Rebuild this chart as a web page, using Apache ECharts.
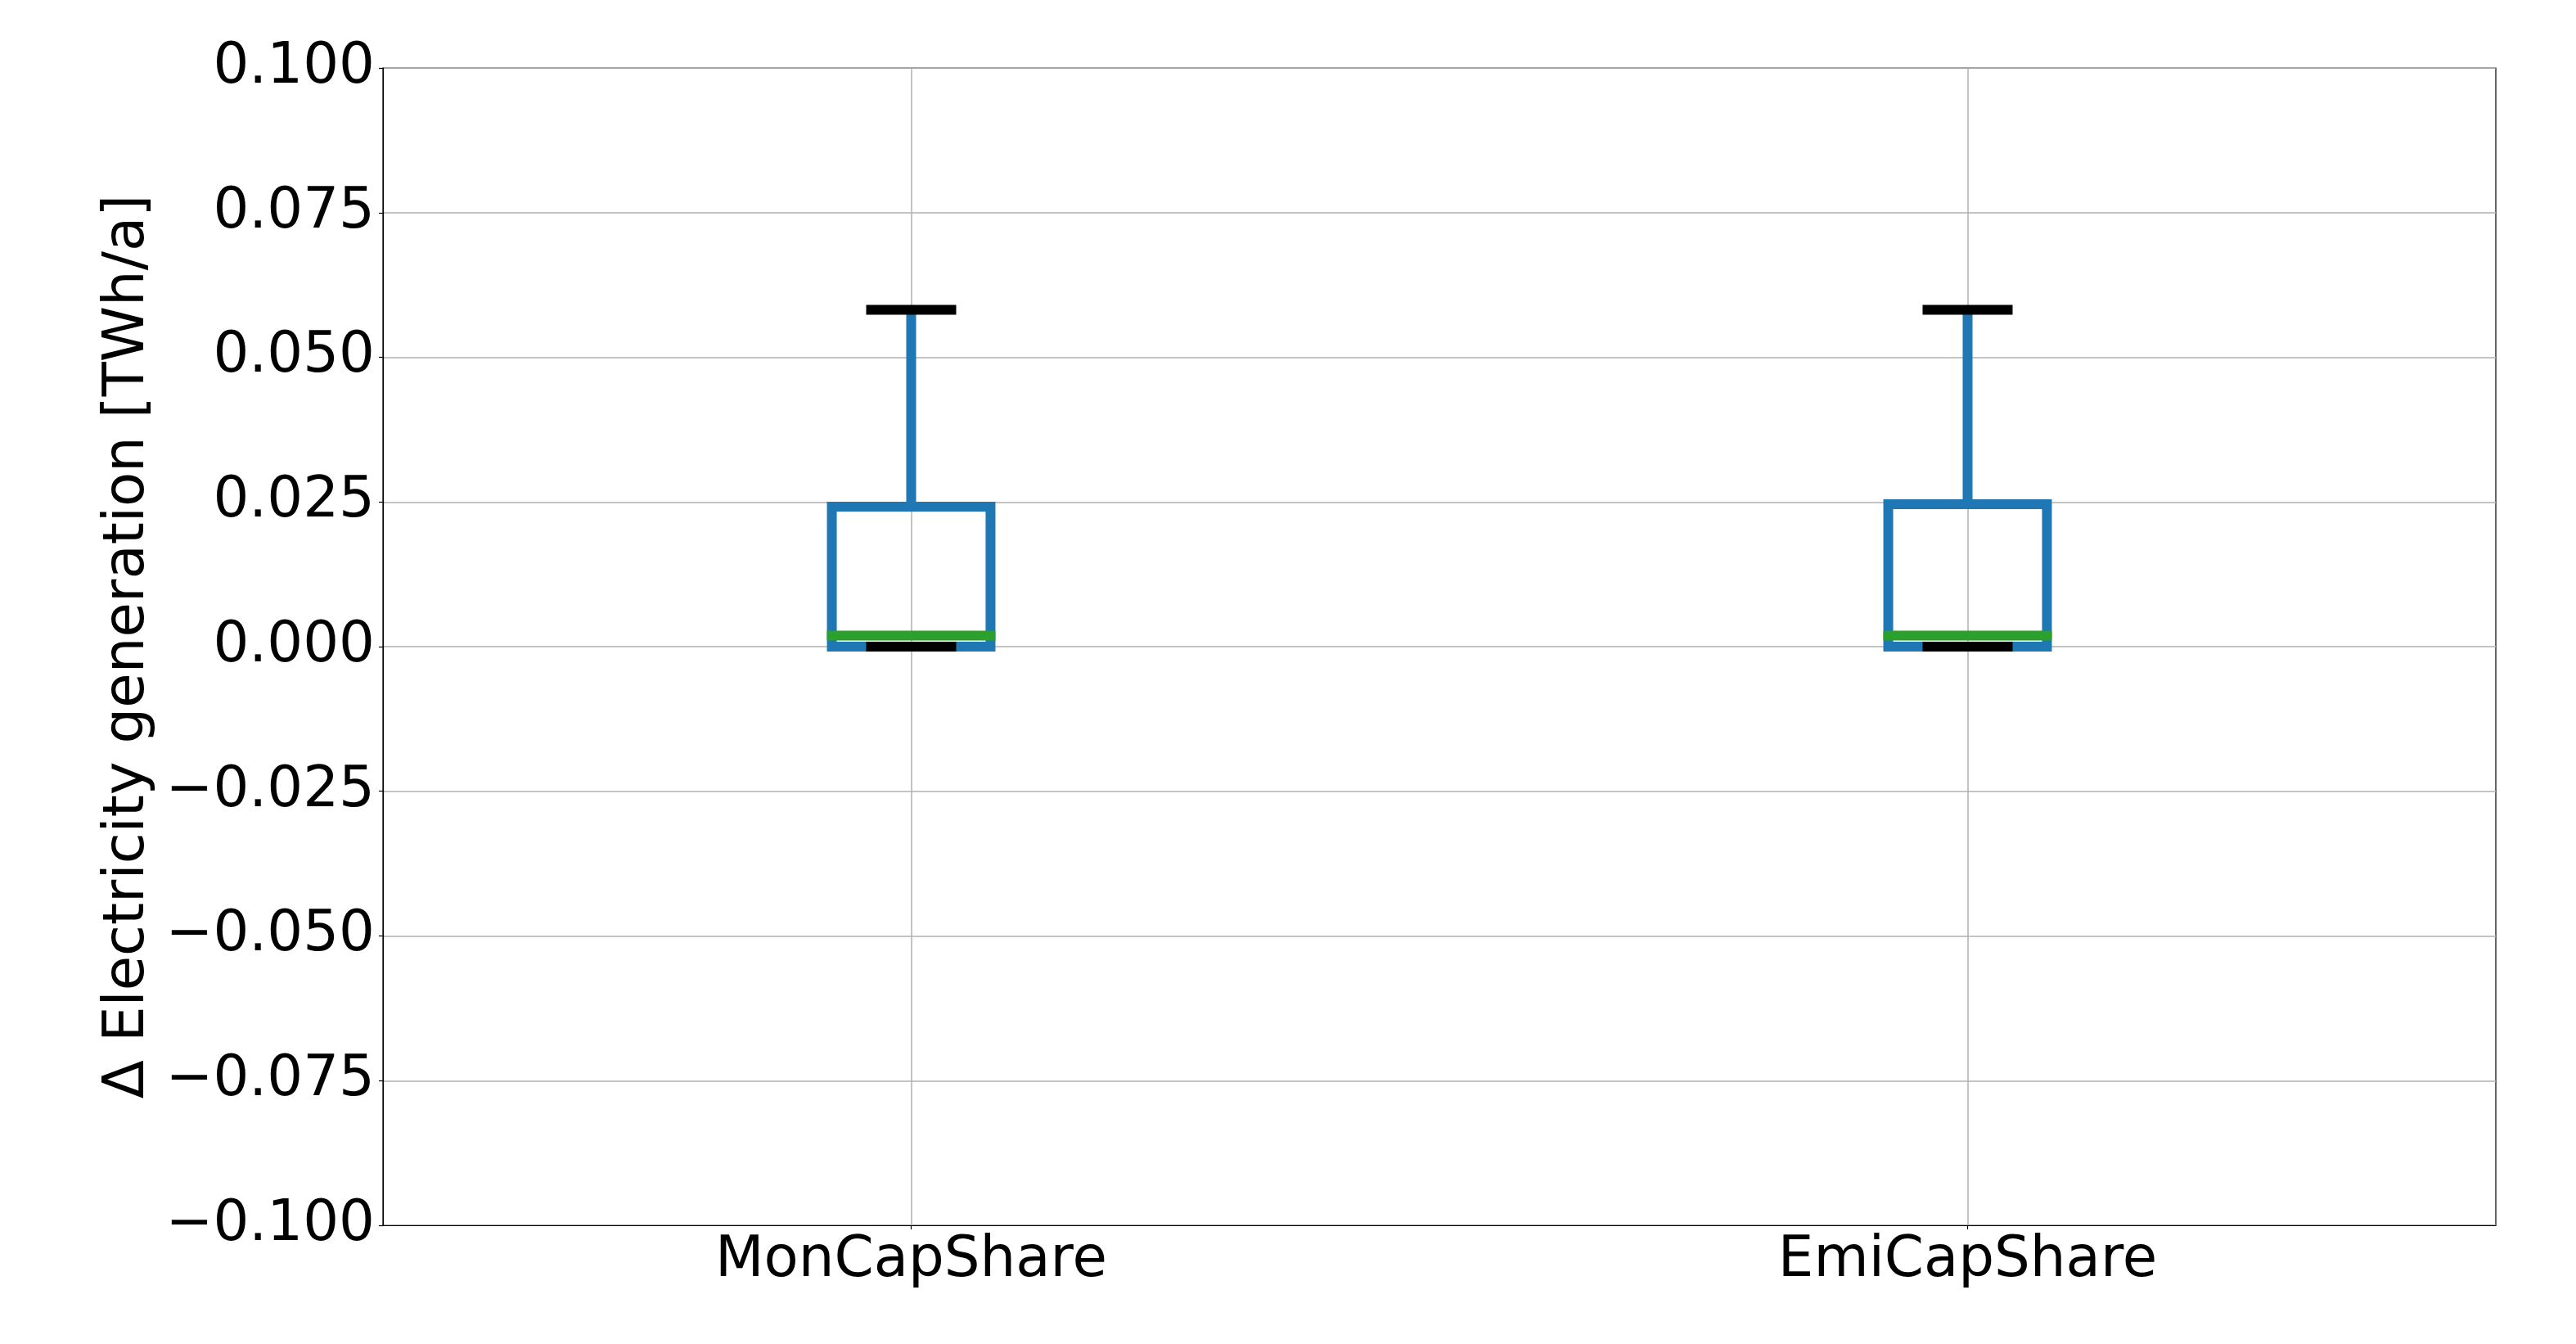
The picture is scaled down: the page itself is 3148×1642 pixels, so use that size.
<!DOCTYPE html>
<html>
<head>
  <meta charset="utf-8">
  <title>Electricity generation</title>
  <script src="https://cdn.jsdelivr.net/npm/echarts@6/dist/echarts.min.js"></script>
  <style>
    html, body { margin: 0; padding: 0; background: #fff; }
    #main { width: 3148px; height: 1642px; }
  </style>
</head>
<body>
  <div id="main"></div>
  <script type="text/javascript">
    // values
    var categories = ['MonCapShare', 'EmiCapShare'];
    var whiskerLow = [0, 0];
    var q1 = [0, 0];
    var median = [0.0019, 0.0019];
    var q3 = [0.0242, 0.0246];
    var whiskerHigh = [0.0582, 0.0582];
    var yTicks = { min: -0.1, max: 0.1, step: 0.025 };

    var font = 'DejaVu Sans';
    var boxData = categories.map(function (c, i) {
      return [i, whiskerLow[i], q1[i], median[i], q3[i], whiskerHigh[i]];
    });

    var myChart = echarts.init(document.getElementById('main'));

    function renderBox(params, api) {
      var x = api.value(0);
      var band = api.size([1, 0])[0];
      var half = band * 0.0751;
      var capHalf = band * 0.0426;
      var pLow = api.coord([x, api.value(1)]);
      var pQ1 = api.coord([x, api.value(2)]);
      var pMed = api.coord([x, api.value(3)]);
      var pQ3 = api.coord([x, api.value(4)]);
      var pHigh = api.coord([x, api.value(5)]);
      var cx = pQ1[0];
      var lw = 12;
      var blue = '#1f77b4';
      return {
        type: 'group',
        children: [
          { type: 'rect',
            shape: { x: cx - half, y: pQ3[1], width: half * 2, height: pQ1[1] - pQ3[1] },
            style: { fill: null, stroke: blue, lineWidth: lw, lineJoin: 'miter' } },
          { type: 'line',
            shape: { x1: cx, y1: pQ3[1], x2: cx, y2: pHigh[1] },
            style: { stroke: blue, lineWidth: lw, lineCap: 'butt' } },
          { type: 'line',
            shape: { x1: cx, y1: pQ1[1], x2: cx, y2: pLow[1] },
            style: { stroke: blue, lineWidth: lw, lineCap: 'butt' } },
          { type: 'line',
            shape: { x1: cx - capHalf, y1: pHigh[1], x2: cx + capHalf, y2: pHigh[1] },
            style: { stroke: '#000', lineWidth: lw, lineCap: 'butt' } },
          { type: 'line',
            shape: { x1: cx - capHalf, y1: pLow[1], x2: cx + capHalf, y2: pLow[1] },
            style: { stroke: '#000', lineWidth: lw, lineCap: 'butt' } },
          { type: 'line',
            shape: { x1: cx - half - lw / 2, y1: pMed[1], x2: cx + half + lw / 2, y2: pMed[1] },
            style: { stroke: '#2ca02c', lineWidth: lw, lineCap: 'butt' } }
        ]
      };
    }

    var option = {
      backgroundColor: '#fff',
      animation: false,
      grid: {
        left: 468, right: 98, top: 83, bottom: 145,
        show: true, borderColor: '#000', borderWidth: 1.2
      },
      xAxis: {
        type: 'category',
        data: categories,
        boundaryGap: true,
        axisLine: { onZero: false, lineStyle: { color: '#000', width: 1.2 } },
        axisTick: { show: true, alignWithLabel: true, length: 5, lineStyle: { color: '#000', width: 1.2 } },
        axisLabel: { color: '#000', fontFamily: font, fontSize: 69, margin: 10 },
        splitLine: { show: true, alignWithLabel: true, lineStyle: { color: '#b0b0b0', width: 1.5 } }
      },
      yAxis: {
        type: 'value',
        min: yTicks.min,
        max: yTicks.max,
        interval: yTicks.step,
        name: '\u0394 Electricity generation [TWh/a]',
        nameLocation: 'middle',
        nameGap: 272,
        nameTextStyle: { color: '#000', fontFamily: font, fontSize: 69 },
        axisLine: { show: true, lineStyle: { color: '#000', width: 1.2 } },
        axisTick: { show: true, length: 5, lineStyle: { color: '#000', width: 1.2 } },
        axisLabel: {
          color: '#000', fontFamily: font, fontSize: 69, margin: 10,
          formatter: function (v) {
            if (Math.abs(v) < 1e-9) return '0.000';
            return v.toFixed(3).replace('-', '\u2212');
          }
        },
        splitLine: { show: true, lineStyle: { color: '#b0b0b0', width: 1.5 } }
      },
      series: [{
        type: 'custom',
        renderItem: renderBox,
        encode: { x: 0, y: [1, 2, 3, 4, 5] },
        data: boxData,
        z: 3
      }]
    };

    myChart.setOption(option);
  </script>
</body>
</html>
